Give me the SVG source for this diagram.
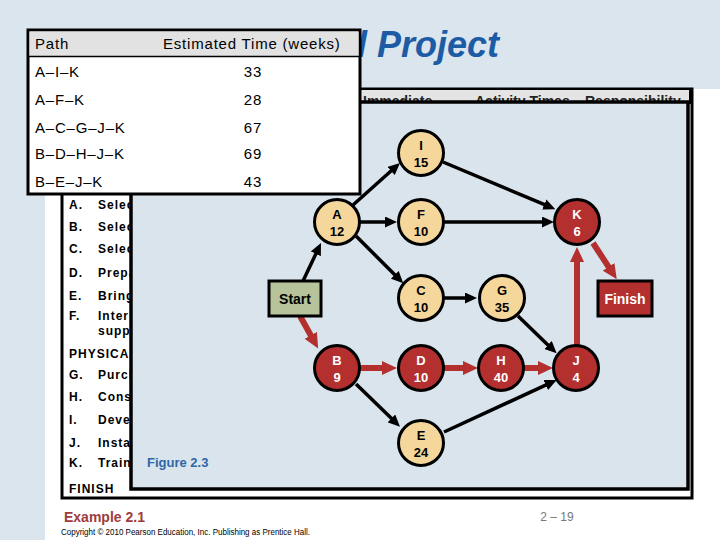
<svg xmlns="http://www.w3.org/2000/svg" width="720" height="540" viewBox="0 0 720 540">
<style>
text{font-family:"Liberation Sans",Arial,sans-serif}
.tb{font-size:15px;letter-spacing:0.8px;fill:#000}
.ls{font-size:12px;font-weight:bold;letter-spacing:1px;fill:#000}
.hd{font-size:14px;font-weight:bold;fill:#222}
.nl{font-size:13px;font-weight:bold;text-anchor:middle}
.beige circle{fill:#f5d79b;stroke:#000;stroke-width:3}
.beige text{fill:#000}
.red circle{fill:#b3302e;stroke:#000;stroke-width:3}
.red text{fill:#fff}
.blk{stroke:#000;stroke-width:3.5;fill:none;marker-end:url(#ab)}
.rd{stroke:#b3302e;stroke-width:6;fill:none;marker-end:url(#ar)}
</style>
<defs>
<marker id="ab" markerUnits="userSpaceOnUse" markerWidth="12" markerHeight="11" refX="1" refY="5.5" orient="auto"><path d="M0,0 L12,5.5 L0,11 z" fill="#000"/></marker>
<marker id="ar" markerUnits="userSpaceOnUse" markerWidth="15" markerHeight="14" refX="1" refY="7" orient="auto"><path d="M0,0 L15,7 L0,14 z" fill="#b3302e"/></marker>
</defs>
<rect x="0" y="0" width="720" height="540" fill="#fff"/>
<rect x="0" y="0" width="720" height="89" fill="#dae5ee"/>
<rect x="0" y="0" width="45" height="540" fill="#dae5ee"/>
<text x="357" y="57" font-size="36" font-weight="bold" font-style="italic" fill="#1d5ba5">l Project</text>
<g id="activity-table">
<rect x="62" y="89" width="630" height="409" fill="#fff" stroke="#000" stroke-width="3"/>
<rect x="62" y="89" width="628" height="14" fill="#e4e4e4" stroke="#000" stroke-width="2"/>
<text class="hd" x="363" y="106">Immediate</text>
<text class="hd" x="475" y="106">Activity Times</text>
<text class="hd" x="585" y="106">Responsibility</text>
<g class="ls">
<text x="69" y="209">A.</text><text x="98" y="209">Selec</text>
<text x="69" y="231">B.</text><text x="98" y="231">Selec</text>
<text x="69" y="253">C.</text><text x="98" y="253">Selec</text>
<text x="69" y="277">D.</text><text x="98" y="277">Prepa</text>
<text x="69" y="300">E.</text><text x="98" y="300">Bring</text>
<text x="69" y="320">F.</text><text x="98" y="320">Inter</text>
<text x="98" y="335">supp</text>
<text x="69" y="358">PHYSICA</text>
<text x="69" y="379">G.</text><text x="98" y="379">Purch</text>
<text x="69" y="401">H.</text><text x="98" y="401">Cons</text>
<text x="69" y="424">I.</text><text x="98" y="424">Deve</text>
<text x="69" y="447">J.</text><text x="98" y="447">Insta</text>
<text x="69" y="467">K.</text><text x="98" y="467">Train</text>
<text x="69" y="493">FINISH</text>
</g>
</g>
<g id="figure-panel">
<rect x="131" y="102" width="557" height="387" fill="#d9e4ed" stroke="#000" stroke-width="3.5"/>
<text x="147" y="467" font-size="13" font-weight="bold" fill="#2e67a6">Figure 2.3</text>
</g>
<g id="path-table">
<rect x="28" y="30" width="332" height="164" fill="#fff" stroke="#000" stroke-width="3"/>
<rect x="29.5" y="31.5" width="329" height="25" fill="#e2e2e2"/>
<line x1="28" y1="56.5" x2="360" y2="56.5" stroke="#000" stroke-width="1.5"/>
<text class="tb" x="35" y="49">Path</text>
<text class="tb" x="163" y="49">Estimated Time (weeks)</text>
<text class="tb" x="35" y="77">A–I–K</text><text class="tb" x="253" y="77" text-anchor="middle">33</text>
<text class="tb" x="35" y="105">A–F–K</text><text class="tb" x="253" y="105" text-anchor="middle">28</text>
<text class="tb" x="35" y="133">A–C–G–J–K</text><text class="tb" x="253" y="133" text-anchor="middle">67</text>
<text class="tb" x="35" y="159">B–D–H–J–K</text><text class="tb" x="253" y="159" text-anchor="middle">69</text>
<text class="tb" x="35" y="187">B–E–J–K</text><text class="tb" x="253" y="187" text-anchor="middle">43</text>
</g>
<g id="connectors">
<line class="blk" x1="303" y1="281" x2="316.3" y2="252.9"/>
<line class="blk" x1="353" y1="205" x2="391.8" y2="170.3"/>
<line class="blk" x1="360" y1="222" x2="386" y2="222"/>
<line class="blk" x1="356" y1="236" x2="395.5" y2="275.5"/>
<line class="blk" x1="444" y1="298" x2="466" y2="298"/>
<line class="blk" x1="443" y1="162" x2="545.2" y2="204.9"/>
<line class="blk" x1="444" y1="222" x2="543" y2="222"/>
<line class="blk" x1="518" y1="316" x2="548.7" y2="345.7"/>
<line class="blk" x1="356" y1="384" x2="392.1" y2="419.1"/>
<line class="blk" x1="444" y1="432" x2="546.7" y2="384.6"/>
<line class="rd" x1="300" y1="316" x2="311.3" y2="336.2"/>
<line class="rd" x1="360" y1="368" x2="383" y2="368"/>
<line class="rd" x1="444" y1="368" x2="464" y2="368"/>
<line class="rd" x1="524" y1="368" x2="539" y2="368"/>
<line class="rd" x1="577" y1="345" x2="577" y2="261"/>
<line class="rd" x1="593" y1="243" x2="609.1" y2="267.6"/>
</g>
<g id="node-start"><rect x="269" y="281" width="52" height="35" fill="#b6c39b" stroke="#000" stroke-width="3"/><text x="295" y="303.5" font-size="14" font-weight="bold" text-anchor="middle" fill="#000">Start</text></g>
<g id="node-finish"><rect x="598" y="281" width="54" height="35" fill="#b3302e" stroke="#000" stroke-width="3"/><text x="625" y="303.5" font-size="14" font-weight="bold" text-anchor="middle" fill="#fff">Finish</text></g>
<g id="node-A" class="beige"><circle cx="337" cy="222" r="22.5"/><text class="nl" x="337" y="219">A</text><text class="nl" x="337" y="236">12</text></g>
<g id="node-I" class="beige"><circle cx="421" cy="153" r="22.5"/><text class="nl" x="421" y="150">I</text><text class="nl" x="421" y="167">15</text></g>
<g id="node-F" class="beige"><circle cx="421" cy="222" r="22.5"/><text class="nl" x="421" y="219">F</text><text class="nl" x="421" y="236">10</text></g>
<g id="node-C" class="beige"><circle cx="421" cy="298" r="22.5"/><text class="nl" x="421" y="295">C</text><text class="nl" x="421" y="312">10</text></g>
<g id="node-G" class="beige"><circle cx="502" cy="298" r="22.5"/><text class="nl" x="502" y="295">G</text><text class="nl" x="502" y="312">35</text></g>
<g id="node-E" class="beige"><circle cx="421" cy="443" r="22.5"/><text class="nl" x="421" y="440">E</text><text class="nl" x="421" y="457">24</text></g>
<g id="node-K" class="red"><circle cx="577" cy="222" r="22.5"/><text class="nl" x="577" y="219">K</text><text class="nl" x="577" y="236">6</text></g>
<g id="node-B" class="red"><circle cx="337" cy="368" r="22.5"/><text class="nl" x="337" y="365">B</text><text class="nl" x="337" y="382">9</text></g>
<g id="node-D" class="red"><circle cx="421" cy="368" r="22.5"/><text class="nl" x="421" y="365">D</text><text class="nl" x="421" y="382">10</text></g>
<g id="node-H" class="red"><circle cx="501" cy="368" r="22.5"/><text class="nl" x="501" y="365">H</text><text class="nl" x="501" y="382">40</text></g>
<g id="node-J" class="red"><circle cx="576" cy="368" r="22.5"/><text class="nl" x="576" y="365">J</text><text class="nl" x="576" y="382">4</text></g>
<g id="footer">
<text x="64" y="522" font-size="14" font-weight="bold" fill="#9e3b3b">Example 2.1</text>
<text x="557" y="521" font-size="12" text-anchor="middle" fill="#777">2 – 19</text>
<text x="61" y="535" font-size="8.5" fill="#000" textLength="249" lengthAdjust="spacingAndGlyphs">Copyright © 2010 Pearson Education, Inc. Publishing as Prentice Hall.</text>
</g>
</svg>
